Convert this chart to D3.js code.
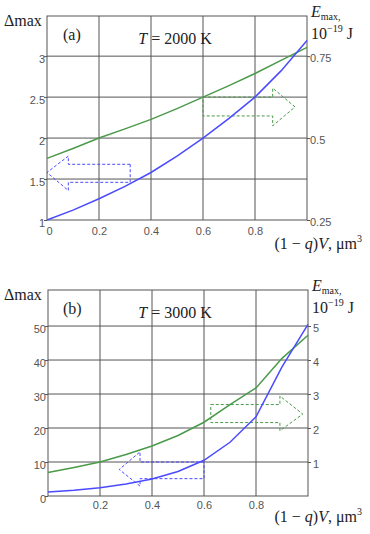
<!DOCTYPE html>
<html>
<head>
<meta charset="utf-8">
<script src="https://cdn.jsdelivr.net/npm/d3@7/dist/d3.min.js"></script>
<style>
  body { margin: 0; background: #fff; }
  .tick text { font-family: "Liberation Sans", Arial, sans-serif; font-size: 11px; fill: #555; }
  .serif { font-family: "Liberation Serif", "Times New Roman", serif; fill: #222; }
</style>
</head>
<body>
<svg id="chart" width="370" height="534"></svg>
<script>
// (1 - q)V, um^3
var volume = [0, 0.1, 0.2, 0.3, 0.4, 0.5, 0.6, 0.7, 0.8, 0.9, 1.0];

// panel (a), T = 2000 K
var deltaA = [1.0, 1.12, 1.26, 1.41, 1.58, 1.78, 2.0, 2.24, 2.5, 2.82, 3.19];
var energyA = [0.438, 0.468, 0.5, 0.528, 0.557, 0.59, 0.625, 0.66, 0.697, 0.737, 0.777];

// panel (b), T = 3000 K
var deltaB = [1.2, 1.7, 2.4, 3.5, 5.0, 7.2, 10.5, 15.8, 23.3, 38, 50.5];
var energyB = [0.69, 0.84, 1.0, 1.22, 1.47, 1.78, 2.17, 2.69, 3.18, 4.05, 4.73];

var xTicksA = [0, 0.2, 0.4, 0.6, 0.8];
var xTicksB = [0.2, 0.4, 0.6, 0.8];
var leftTicksA = [1, 1.5, 2, 2.5, 3];
var rightTicksA = [0.25, 0.5, 0.75];
var leftTicksB = [0, 10, 20, 30, 40, 50];
var rightTicksB = [1, 2, 3, 4, 5];

// dashed arrows, in (x, delta) units
var arrowBlueA = [[0.32, 1.68], [0.082, 1.68], [0.082, 1.78], [0, 1.58], [0.082, 1.36], [0.082, 1.46], [0.32, 1.46]];
var arrowGreenA = [[0.6, 2.5], [0.868, 2.5], [0.868, 2.61], [0.954, 2.38], [0.868, 2.15], [0.868, 2.27], [0.6, 2.27]];
var arrowBlueB = [[0.6, 10], [0.354, 10], [0.354, 13], [0.274, 7.8], [0.354, 2.9], [0.354, 5.1], [0.6, 5.1]];
var arrowGreenB = [[0.626, 26.9], [0.892, 26.9], [0.892, 29.4], [0.98, 24.1], [0.892, 19.2], [0.892, 21.6], [0.626, 21.6]];

var BLUE = "#4a4aff", GREEN = "#4a9a4a", GRID = "#555";

var svg = d3.select("#chart");
var plain = function (d) { return String(d); };

function drawPanel(p) {
  var x = d3.scaleLinear().domain([0, 1]).range([p.left, p.right]);
  var y = d3.scaleLinear().domain(p.yDomain).range([p.bottom, p.top]);
  var yR = d3.scaleLinear().domain([p.yDomain[0] / p.ratio, p.yDomain[1] / p.ratio]).range([p.bottom, p.top]);
  var g = svg.append("g");

  // grid
  g.selectAll(".vg").data(p.xTicks.filter(function (d) { return d > 0; }))
    .enter().append("line")
    .attr("x1", x).attr("x2", x).attr("y1", p.top).attr("y2", p.bottom)
    .attr("stroke", GRID).attr("stroke-width", 1);
  g.selectAll(".hg").data(p.leftTicks.filter(function (d) { return d > p.yDomain[0]; }))
    .enter().append("line")
    .attr("x1", p.left).attr("x2", p.right).attr("y1", y).attr("y2", y)
    .attr("stroke", GRID).attr("stroke-width", 1);
  g.append("rect")
    .attr("x", p.left).attr("y", p.top)
    .attr("width", p.right - p.left).attr("height", p.bottom - p.top)
    .attr("fill", "none").attr("stroke", GRID).attr("stroke-width", 1);

  // axes
  var ax = g.append("g").attr("transform", "translate(0," + p.bottom + ")")
    .call(d3.axisBottom(x).tickValues(p.xTicks).tickFormat(plain).tickSize(0).tickPadding(p.xPad));
  var al = g.append("g").attr("transform", "translate(" + p.left + ",0)")
    .call(d3.axisLeft(y).tickValues(p.leftTicks).tickFormat(plain).tickSize(3).tickPadding(-1));
  var ar = g.append("g").attr("transform", "translate(" + p.right + ",0)")
    .call(d3.axisRight(yR).tickValues(p.rightTicks).tickFormat(plain).tickSize(3).tickPadding(p.rPad));
  [ax, al, ar].forEach(function (a) {
    a.select(".domain").remove();
    a.selectAll("line").attr("stroke", GRID);
    a.attr("font-family", null).attr("font-size", null);
  });
  al.selectAll("text").attr("dy", "0.55em");
  ar.selectAll("text").attr("dy", "0.5em");
  ax.selectAll("text").filter(function (d) { return d === 0; }).attr("dx", 2);

  // arrows
  var poly = d3.line().x(function (d) { return x(d[0]); }).y(function (d) { return y(d[1]); });
  [[p.arrowBlue, BLUE], [p.arrowGreen, GREEN]].forEach(function (a) {
    g.append("path").attr("d", poly(a[0]) + "Z")
      .attr("fill", "none").attr("stroke", a[1]).attr("stroke-width", 1)
      .attr("stroke-dasharray", "3,2");
  });

  // curves
  var lineL = d3.line().x(function (d, i) { return x(volume[i]); }).y(function (d) { return y(d); });
  var lineR = d3.line().x(function (d, i) { return x(volume[i]); }).y(function (d) { return yR(d); });
  g.append("path").attr("d", lineR(p.energy))
    .attr("fill", "none").attr("stroke", GREEN).attr("stroke-width", 1.5);
  g.append("path").attr("d", lineL(p.delta))
    .attr("fill", "none").attr("stroke", BLUE).attr("stroke-width", 1.5);

  // labels
  g.append("text").attr("class", "serif").attr("x", 4).attr("y", p.top + 10)
    .attr("font-size", 16).text("\u0394max");
  g.append("text").attr("class", "serif").attr("x", 63).attr("y", p.top + 24)
    .attr("font-size", 16).text(p.tag);
  var t = g.append("text").attr("class", "serif").attr("x", 175).attr("y", p.top + 28)
    .attr("font-size", 16).attr("text-anchor", "middle");
  t.append("tspan").attr("font-style", "italic").text("T");
  t.append("tspan").text(" = " + p.temp + " K");

  var e = g.append("text").attr("class", "serif").attr("x", p.right + 4).attr("y", p.top + 1)
    .attr("font-size", 16);
  e.append("tspan").attr("font-style", "italic").text("E");
  e.append("tspan").attr("font-size", 10).attr("dy", 3).text("max,");
  var u = g.append("text").attr("class", "serif").attr("x", p.right + 4).attr("y", p.top + 23)
    .attr("font-size", 16);
  u.append("tspan").text("10");
  u.append("tspan").attr("font-size", 10).attr("dy", -7).text("\u221219");
  u.append("tspan").attr("dy", 7).text(" J");

  var xl = g.append("text").attr("class", "serif").attr("x", 362).attr("y", p.bottom + p.xLabelDy)
    .attr("font-size", 16).attr("text-anchor", "end");
  xl.append("tspan").text("(1 \u2212 ");
  xl.append("tspan").attr("font-style", "italic").text("q");
  xl.append("tspan").text(")");
  xl.append("tspan").attr("font-style", "italic").text("V");
  xl.append("tspan").text(", \u03bcm");
  xl.append("tspan").attr("font-size", 10).attr("dy", -7).text("3");
}

drawPanel({
  left: 47, right: 307, top: 16, bottom: 220,
  yDomain: [1, 3.49], ratio: 4,
  xTicks: xTicksA, leftTicks: leftTicksA, rightTicks: rightTicksA,
  xPad: 7, rPad: 0, xLabelDy: 29,
  delta: deltaA, energy: energyA,
  arrowBlue: arrowBlueA, arrowGreen: arrowGreenA,
  tag: "(a)", temp: "2000"
});

drawPanel({
  left: 48, right: 308, top: 290, bottom: 496,
  yDomain: [0, 60.6], ratio: 10,
  xTicks: xTicksB, leftTicks: leftTicksB, rightTicks: rightTicksB,
  xPad: 5, rPad: 2, xLabelDy: 26,
  delta: deltaB, energy: energyB,
  arrowBlue: arrowBlueB, arrowGreen: arrowGreenB,
  tag: "(b)", temp: "3000"
});
</script>
</body>
</html>
